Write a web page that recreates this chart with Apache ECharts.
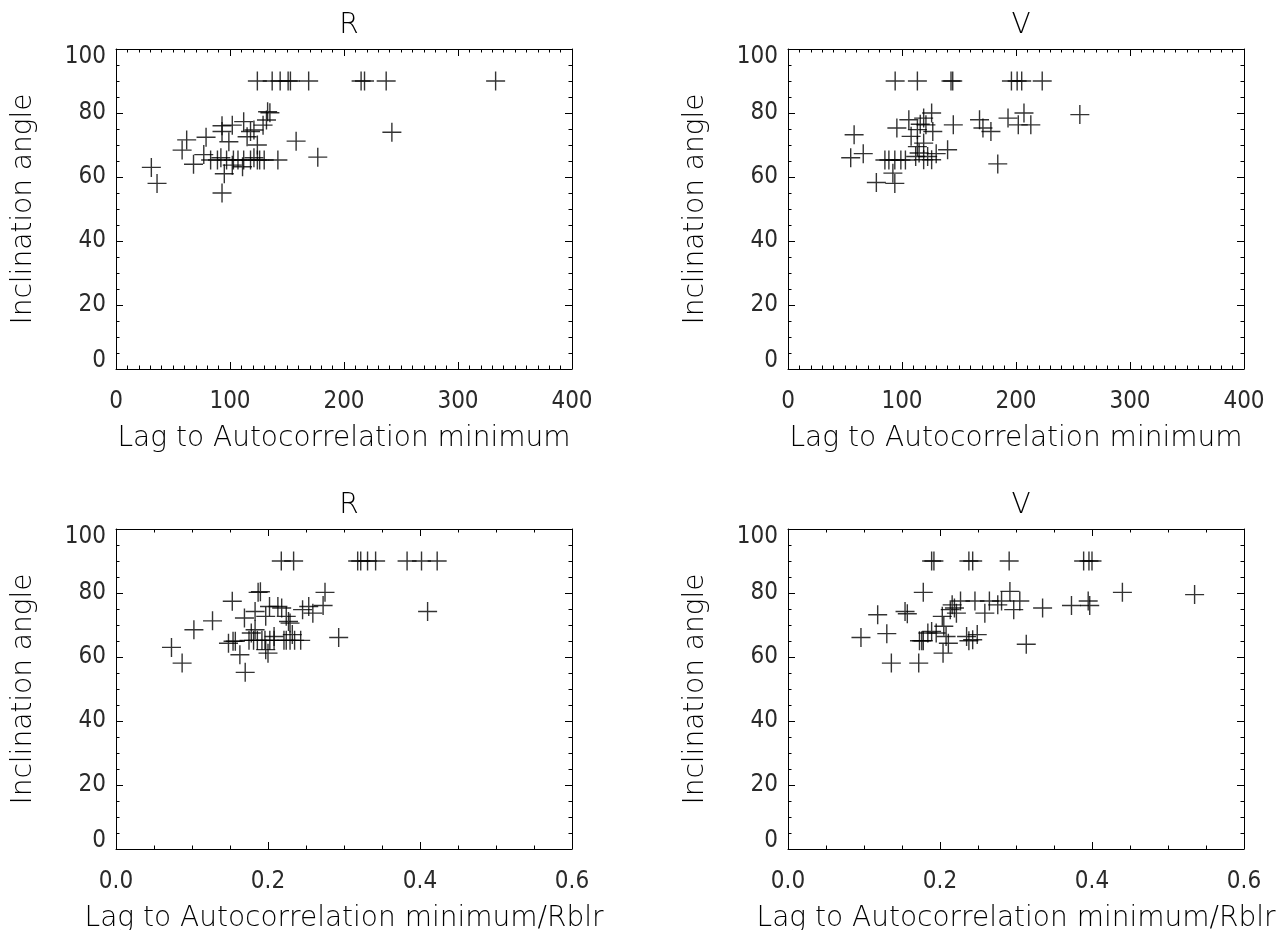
<!DOCTYPE html>
<html>
<head>
<meta charset="utf-8">
<script src="https://cdn.jsdelivr.net/npm/echarts@6/dist/echarts.min.js"></script>
<style>
  html, body { margin: 0; padding: 0; background: #fff; }
  #chart { width: 1282px; height: 930px; }
</style>
</head>
<body>
<div id="chart"></div>
<script>
// Panel titles and axis titles
const panelTitles = ['R', 'V', 'R', 'V'];
const yTitle = 'Inclination angle';
const xTitleLag = 'Lag to Autocorrelation minimum';
const xTitleNorm = 'Lag to Autocorrelation minimum/Rblr';

// Tick values
const yTicks = [0, 20, 40, 60, 80, 100];
const lagTicks = [0, 100, 200, 300, 400];
const normTicks = [0.0, 0.2, 0.4, 0.6];

// R band: lag to autocorrelation minimum vs inclination angle
const rLag = [
  [31, 63], [36, 58], [58, 68.4], [62, 71.6], [68, 64], [77, 67], [79, 72.4],
  [83, 65.3], [89, 65.3], [92, 66], [93, 74.2], [93, 76], [93, 55], [95, 61],
  [97, 65.3], [99, 71], [102, 76.2], [103, 65.3], [102, 63.7], [107, 65.3],
  [111, 63.2], [112, 65.3], [112, 77.3], [115, 72.6], [118, 74.2], [118, 65.3],
  [121, 74.7], [121, 66], [124, 70], [124, 65.3], [126, 65.3], [129, 76.2],
  [130, 65.3], [132, 77.8], [133, 80.4], [135, 80.1], [142, 65.3], [158, 71.2],
  [177, 66.2], [242, 74],
  [124, 90], [137, 90], [144, 90], [151, 90], [153, 90], [169, 90], [215, 90],
  [218, 90], [237, 90], [333, 90]
];

// V band: lag to autocorrelation minimum vs inclination angle
const vLag = [
  [55, 66], [58, 73.2], [66, 67.3], [77.5, 58.3], [92, 61.2], [93.7, 58],
  [85, 65.3], [88.5, 65.3], [93.7, 65.3], [99, 65.3], [103, 65.3], [95.5, 75.3],
  [106, 77.9], [108, 72.7], [112, 66.4], [113.5, 69.5], [113.5, 74.8], [115, 67.5],
  [116, 76.5], [119, 65.4], [119, 70.6], [119, 78.4], [121, 76.3], [122.5, 66.4],
  [126, 80], [126, 65.4], [127, 74.2], [130, 67.3], [140, 68.5], [145, 76.3],
  [168, 77.9], [171, 75.3], [178, 74.2], [184, 64.1], [193, 78.4], [202, 76.3],
  [207, 80], [213, 76.3], [256, 79.5],
  [94, 90], [113.5, 90], [143, 90], [144.5, 90], [196, 90], [201, 90], [205, 90],
  [223, 90]
];

// R band: lag normalised by Rblr vs inclination angle
const rNorm = [
  [0.073, 63], [0.087, 58.1], [0.1025, 68.5], [0.127, 71.3], [0.148, 64.3],
  [0.153, 77.4], [0.154, 64.9], [0.157, 64.9], [0.163, 60.7], [0.169, 72.2],
  [0.170, 55.2], [0.175, 65.2], [0.178, 67.5], [0.181, 65.2], [0.183, 68.5],
  [0.183, 74.2], [0.186, 65.2], [0.187, 80.2], [0.19, 80.4], [0.192, 65.2],
  [0.196, 65.2], [0.197, 62.3], [0.197, 72.7], [0.2, 61.2], [0.202, 75.8],
  [0.2024, 65.2], [0.208, 65.2], [0.208, 66.4], [0.213, 75.8], [0.218, 75.3],
  [0.221, 65.2], [0.224, 72.7], [0.224, 65.2], [0.227, 71.1], [0.229, 70.6],
  [0.229, 65.2], [0.232, 67], [0.235, 65.2], [0.243, 65.2], [0.2455, 74.8],
  [0.2536, 75.8], [0.259, 73.7], [0.2725, 76.1], [0.275, 80.2], [0.293, 66.1],
  [0.41, 74.2],
  [0.2175, 90], [0.2337, 90], [0.318, 90], [0.322, 90], [0.331, 90],
  [0.3416, 90], [0.383, 90], [0.402, 90], [0.4226, 90]
];

// V band: lag normalised by Rblr vs inclination angle
const vNorm = [
  [0.096, 66.1], [0.118, 73.2], [0.13, 67.3], [0.136, 58.1], [0.154, 74.2],
  [0.157, 73.5], [0.172, 58.1], [0.173, 65.1], [0.176, 65.1], [0.178, 65.1],
  [0.178, 80.2], [0.184, 67.5], [0.189, 68], [0.195, 67.5], [0.203, 72.7],
  [0.204, 61.2], [0.205, 69.6], [0.208, 66.4], [0.211, 64.3], [0.2135, 74.8],
  [0.216, 76.3], [0.219, 75.3], [0.2216, 73.7], [0.227, 77.5], [0.235, 66.4],
  [0.238, 65.1], [0.243, 65.4], [0.249, 67], [0.246, 77.5], [0.259, 73.7],
  [0.265, 77.5], [0.276, 76.3], [0.281, 77.5], [0.292, 80.5], [0.297, 74.8],
  [0.305, 77.5], [0.3135, 64], [0.335, 75.3], [0.373, 76.1], [0.395, 77.5],
  [0.397, 76.1], [0.44, 80.2], [0.535, 79.5],
  [0.189, 90], [0.192, 90], [0.238, 90], [0.243, 90], [0.291, 90], [0.389, 90],
  [0.396, 90], [0.4, 90]
];

const FONT = '"DejaVu Sans", sans-serif';
const NUM_FONT = '"Liberation Sans Narrow", "DejaVu Sans Condensed", "DejaVu Sans", sans-serif';
const INK = '#000';

const panels = [
  { title: panelTitles[0], data: rLag,  ticks: lagTicks,  minor: 10, xName: xTitleLag,  dec: 0 },
  { title: panelTitles[1], data: vLag,  ticks: lagTicks,  minor: 10, xName: xTitleLag,  dec: 0 },
  { title: panelTitles[2], data: rNorm, ticks: normTicks, minor: 4,  xName: xTitleNorm, dec: 1 },
  { title: panelTitles[3], data: vNorm, ticks: normTicks, minor: 4,  xName: xTitleNorm, dec: 1 }
];

// plot boxes, two columns by two rows
const boxLeft = [116, 788];
const boxTop = [49, 529];
const boxW = 456, boxH = 320;

const grid = [], xAxis = [], yAxis = [], series = [], title = [];

panels.forEach((p, i) => {
  const col = i % 2, row = Math.floor(i / 2);
  grid.push({ left: boxLeft[col], top: boxTop[row], width: boxW, height: boxH,
              outerBoundsMode: 'none', containLabel: false });

  const xMin = p.ticks[0], xMax = p.ticks[p.ticks.length - 1];
  const xStep = p.ticks[1] - p.ticks[0];
  const common = {
    min: xMin, max: xMax, interval: xStep, gridIndex: i,
    axisLine: { show: true, onZero: false, lineStyle: { color: INK, width: 1 } },
    axisTick: { show: true, inside: true, length: 7, lineStyle: { color: INK, width: 1 } },
    minorTick: { show: true, splitNumber: p.minor, length: 3.5, lineStyle: { color: INK, width: 1 } },
    splitLine: { show: false }
  };
  const numStyle = { color: '#2a2a2a', fontFamily: NUM_FONT, fontSize: 24, fontWeight: 'normal' };
  xAxis.push(Object.assign({}, common, {
    type: 'value', position: 'bottom',
    axisLabel: Object.assign({ show: true, margin: 21, formatter: v => v.toFixed(p.dec) }, numStyle),
    name: p.xName, nameLocation: 'middle', nameGap: 56,
    nameTextStyle: { color: INK, fontFamily: FONT, fontSize: 28, fontWeight: 200 }
  }));
  xAxis.push(Object.assign({}, common, {
    type: 'value', position: 'top', axisLabel: { show: false }
  }));

  const yCommon = {
    type: 'value', min: yTicks[0], max: yTicks[yTicks.length - 1],
    interval: yTicks[1] - yTicks[0], gridIndex: i,
    axisLine: { show: true, onZero: false, lineStyle: { color: INK, width: 1 } },
    axisTick: { show: true, inside: true, length: 7, lineStyle: { color: INK, width: 1 } },
    minorTick: { show: true, splitNumber: 4, length: 3.5, lineStyle: { color: INK, width: 1 } },
    splitLine: { show: false }
  };
  yAxis.push(Object.assign({}, yCommon, {
    position: 'left',
    axisLabel: Object.assign({ show: true, margin: 10,
      formatter: v => v === yTicks[yTicks.length - 1] ? '{hi|' + v + '}'
                    : v === yTicks[0] ? '{lo|' + v + '}' : String(v),
      rich: {
        hi: Object.assign({ padding: [16, 0, 0, 0] }, numStyle),
        lo: Object.assign({ padding: [0, 0, 16, 0] }, numStyle)
      }
    }, numStyle),
    name: yTitle, nameLocation: 'middle', nameGap: 78,
    nameTextStyle: { color: INK, fontFamily: FONT, fontSize: 28, fontWeight: 200 }
  }));
  yAxis.push(Object.assign({}, yCommon, { position: 'right', axisLabel: { show: false } }));

  title.push({
    text: p.title, left: boxLeft[col] + boxW / 2, top: boxTop[row] - 42, textAlign: 'center',
    textStyle: { color: INK, fontFamily: FONT, fontSize: 28, fontWeight: 200 }
  });

  series.push({
    type: 'scatter', xAxisIndex: 2 * i, yAxisIndex: 2 * i, data: p.data,
    symbol: 'path://M9,0L9,18M0,9L18,9', symbolSize: 19,
    itemStyle: { color: 'rgba(0,0,0,0)', borderColor: '#000', borderWidth: 1.4 },
    emphasis: { disabled: true }, silent: true
  });
});

const chart = echarts.init(document.getElementById('chart'), null, { renderer: 'canvas' });
chart.setOption({
  backgroundColor: '#fff', animation: false,
  title, grid, xAxis, yAxis, series
});
</script>
</body>
</html>
